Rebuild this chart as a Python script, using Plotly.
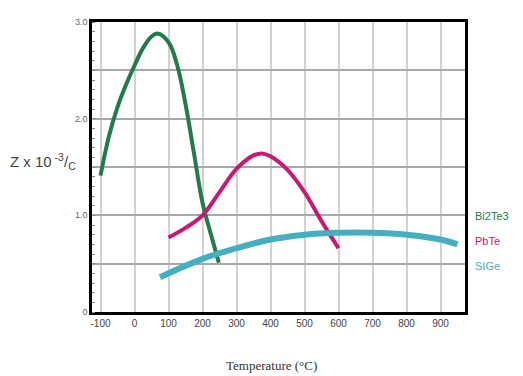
import plotly.graph_objects as go

# Bi2Te3
bi_t = [-100, -75, -50, -25, 0, 25, 50, 68, 100, 125, 150, 175, 200, 225, 248]
bi_z = [1.41, 1.82, 2.12, 2.35, 2.55, 2.73, 2.85, 2.88, 2.79, 2.56, 2.15, 1.64, 1.13, 0.80, 0.51]
# PbTe
pb_t = [100, 150, 200, 250, 300, 350, 375, 400, 450, 500, 550, 600]
pb_z = [0.77, 0.87, 1.0, 1.24, 1.48, 1.62, 1.64, 1.61, 1.47, 1.24, 0.94, 0.66]
# SiGe
si_t = [75, 200, 300, 400, 500, 600, 700, 800, 900, 950]
si_z = [0.36, 0.55, 0.66, 0.75, 0.80, 0.82, 0.82, 0.80, 0.75, 0.70]

series = [
    ("Bi2Te3", bi_t, bi_z, "#237a4a", 4),
    ("PbTe", pb_t, pb_z, "#c81a72", 4),
    ("SIGe", si_t, si_z, "#45afc2", 6),
]

x_ticks = [-100, 0, 100, 200, 300, 400, 500, 600, 700, 800, 900]
y_ticks = [0, 0.5, 1.0, 1.5, 2.0, 2.5, 3.0]
y_text = ["0", "", "1.0", "", "2.0", "", "3.0"]

fig = go.Figure()
for name, t, z, col, w in series:
    fig.add_trace(go.Scatter(x=t, y=z, mode="lines", name=name,
                             line=dict(color=col, width=w, shape="spline", smoothing=1.1)))

fig.update_layout(
    width=515, height=368,
    margin=dict(l=84, r=58, t=9, b=64),
    paper_bgcolor="white", plot_bgcolor="white",
    showlegend=False,
    font=dict(family="Liberation Sans", color="#555"),
)
fig.update_xaxes(
    range=[-125, 972], tickvals=x_ticks, ticktext=[str(v) for v in x_ticks],
    showgrid=True, gridcolor="#d2d2d2", gridwidth=1.5,
    showline=True, linecolor="black", linewidth=2.5, mirror=True,
    ticks="", tickfont=dict(size=10, color="#444"),
    zeroline=False,
)
fig.update_yaxes(
    range=[0, 3.0], tickvals=y_ticks, ticktext=y_text,
    showgrid=True, gridcolor="#a8a8a8", gridwidth=1.5,
    showline=True, linecolor="black", linewidth=2.5, mirror=True,
    ticks="", tickfont=dict(size=9, color="#666"),
    minor=dict(dtick=0.1, ticks="inside", ticklen=3, tickcolor="#888", showgrid=False),
    zeroline=False,
)

fig.add_annotation(xref="paper", yref="paper", x=-0.225, y=0.52, xanchor="left", yanchor="middle",
                   text="Z x 10<sup> -3</sup>/<sub>C</sub>", showarrow=False,
                   font=dict(size=15, color="#444"))
fig.add_annotation(xref="paper", yref="paper", x=0.48, y=-0.186, xanchor="center", yanchor="middle",
                   text="Temperature (°C)", showarrow=False,
                   font=dict(size=13, color="#333", family="Liberation Serif"))
legend_y = [0.33, 0.245, 0.16]
for (name, t, z, col, w), ly in zip(series, legend_y):
    fig.add_annotation(xref="paper", yref="paper", x=1.022, y=ly, xanchor="left", yanchor="middle",
                       text=name, showarrow=False,
                       font=dict(size=11, color=col))

fig.write_html("out.html")
